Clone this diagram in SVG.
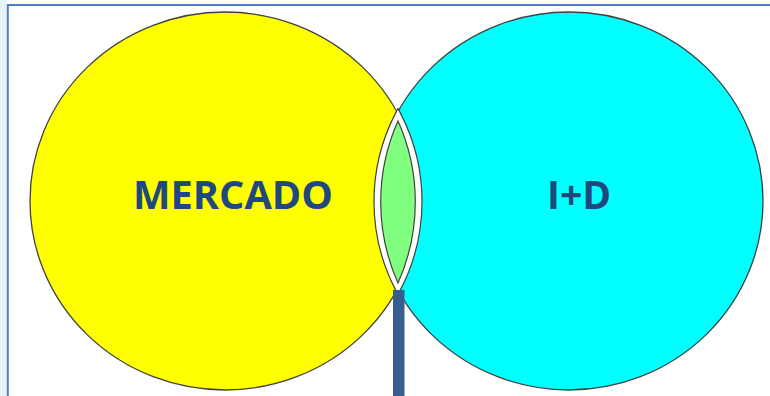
<svg xmlns="http://www.w3.org/2000/svg" width="770" height="396" viewBox="0 0 770 396">
<style>
.circ{stroke:#404040;stroke-width:1.3}
.lbl{font-family:"Open Sans","Liberation Sans",sans-serif;font-weight:700;font-size:39px;fill:#1F497D}
</style>
<rect x="0" y="0" width="770" height="396" fill="#ffffff"/>
<rect x="0" y="0" width="7" height="396" fill="#E8F1F8"/>
<line x1="7.5" y1="5" x2="770" y2="5" stroke="#4F81BD" stroke-width="2"/>
<line x1="7.8" y1="4" x2="7.8" y2="396" stroke="#4F81BD" stroke-width="2"/>
<g id="mercado">
<ellipse class="circ" cx="225" cy="201" rx="195" ry="189" fill="#FFFF00"/>
<text class="lbl" x="233" y="209" text-anchor="middle" textLength="200" lengthAdjust="spacingAndGlyphs">MERCADO</text>
</g>
<g id="id">
<ellipse class="circ" cx="569" cy="201" rx="194" ry="189" fill="#00FFFF"/>
<text class="lbl" x="579" y="209" text-anchor="middle" textLength="64" lengthAdjust="spacingAndGlyphs">I+D</text>
</g>
<g id="interseccion">
<path d="M398,115 A188.5,188.5 0 0,1 398,288 A188.5,188.5 0 0,1 398,115 Z" fill="#ffffff" stroke="#404040" stroke-width="7.2"/>
<path d="M398,115 A188.5,188.5 0 0,1 398,288 A188.5,188.5 0 0,1 398,115 Z" fill="#ffffff" stroke="#ffffff" stroke-width="4.8"/>
<path d="M398,121 A198.3,198.3 0 0,1 398,283 A198.3,198.3 0 0,1 398,121 Z" fill="#80FF80" stroke="#404040" stroke-width="1.2"/>
</g>
<g id="connectors">
<rect x="393" y="290" width="11.5" height="106" fill="#395E8E"/>
</g>
</svg>
